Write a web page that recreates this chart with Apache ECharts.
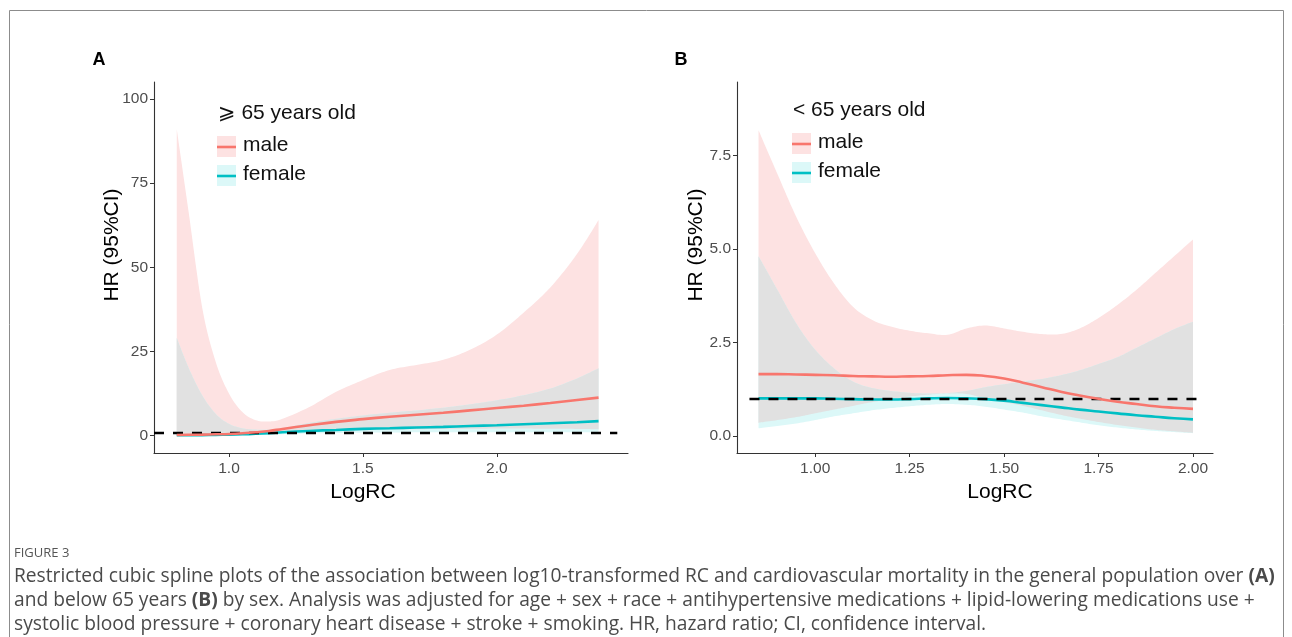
<!DOCTYPE html>
<html>
<head>
<meta charset="utf-8">
<script src="https://cdn.jsdelivr.net/npm/echarts@6/dist/echarts.min.js"></script>
<style>
html,body{margin:0;padding:0;background:#fff;}
#chart{width:1292px;height:637px;}
</style>
</head>
<body>
<div id="chart"></div>
<script>
// ---------------- Panel A (>= 65 years old) ----------------
const xA       = [0.805,0.85,0.9,0.95,1.0,1.05,1.1,1.15,1.2,1.3,1.4,1.5,1.6,1.7,1.8,1.9,2.0,2.1,2.2,2.3,2.38];
const maleA    = [0.2,0.25,0.3,0.4,0.5,0.7,1.0,1.4,2.0,3.1,4.1,4.9,5.6,6.2,6.8,7.5,8.2,8.9,9.7,10.6,11.3];
const maleLoA  = [0.0,0.02,0.05,0.1,0.2,0.3,0.45,0.6,0.8,1.1,1.4,1.6,1.8,1.9,2.0,2.05,2.1,2.1,2.05,2.0,1.9];
const maleHiA  = [91,66,38,22,12.5,7,4.6,4.2,5,8.5,13,16.5,19.5,21,22.5,25.5,30,36.5,44,54,64];
const femaleA  = [0.1,0.13,0.17,0.22,0.3,0.4,0.55,0.75,1.0,1.4,1.7,2.0,2.2,2.4,2.6,2.85,3.1,3.4,3.7,4.0,4.3];
const femLoA   = [0,0.01,0.02,0.04,0.08,0.12,0.2,0.3,0.45,0.65,0.8,0.9,0.95,1.0,1.0,1.0,1.0,1.0,1.0,1.0,1.0];
const femHiA   = [29,20,12,6.5,3.5,2.2,1.8,1.8,2.2,3.8,5,6,6.8,7.5,8.3,9.3,10.5,12,14,17,20];

// ---------------- Panel B (< 65 years old) ----------------
const xB       = [0.85,0.9,0.95,1.0,1.05,1.1,1.15,1.2,1.25,1.3,1.35,1.4,1.45,1.5,1.55,1.6,1.65,1.7,1.75,1.8,1.85,1.9,1.95,2.0];
const maleB    = [1.65,1.65,1.64,1.63,1.62,1.6,1.59,1.58,1.59,1.6,1.62,1.63,1.6,1.53,1.42,1.3,1.18,1.08,0.99,0.91,0.85,0.79,0.75,0.72];
const maleLoB  = [0.35,0.42,0.5,0.6,0.7,0.8,0.9,0.98,1.05,1.1,1.13,1.12,1.0,0.9,0.8,0.68,0.56,0.46,0.37,0.29,0.22,0.16,0.12,0.08];
const maleHiB  = [8.17,7.0,5.85,4.88,4.07,3.45,3.1,2.92,2.81,2.74,2.7,2.87,2.95,2.87,2.78,2.72,2.72,2.87,3.15,3.5,3.9,4.35,4.8,5.25];
const femaleB  = [1.0,1.0,1.0,1.0,0.99,0.98,0.97,0.97,0.98,1.0,1.01,1.0,0.98,0.94,0.88,0.82,0.76,0.7,0.65,0.6,0.55,0.51,0.47,0.44];
const femLoB   = [0.2,0.26,0.33,0.42,0.52,0.6,0.68,0.74,0.79,0.83,0.85,0.83,0.78,0.7,0.62,0.52,0.44,0.36,0.28,0.22,0.17,0.13,0.1,0.07];
const femHiB   = [4.8,3.9,3.0,2.3,1.8,1.45,1.28,1.2,1.15,1.13,1.14,1.2,1.3,1.38,1.45,1.52,1.62,1.75,1.92,2.1,2.35,2.6,2.85,3.05];

// ---------------- Axes / ticks / text ----------------
const xTicksA = [1.0,1.5,2.0];            const xTickLabelsA = ['1.0','1.5','2.0'];
const yTicksA = [0,25,50,75,100];         const yTickLabelsA = ['0','25','50','75','100'];
const xTicksB = [1.0,1.25,1.5,1.75,2.0];  const xTickLabelsB = ['1.00','1.25','1.50','1.75','2.00'];
const yTicksB = [0,2.5,5,7.5];            const yTickLabelsB = ['0.0','2.5','5.0','7.5'];
const refHR = 1;
const refSpanA = [0.72, 2.45];
const refSpanB = [0.826, 2.024];
const legendTitleA = '\u2A7E 65 years old';
const legendTitleB = '< 65 years old';
const groups = ['male','female'];

const PINK = '#F8766D', CYAN = '#00BFC4';
const PINK_FILL = '#FDE2E2', CYAN_FILL = '#DCF8F8', GRAY_FILL = '#E1E1E1';

// Catmull-Rom sampling of pixel points (drawing only)
function crSample(pts, steps){
  const out = [], n = pts.length;
  for (let i = 0; i < n - 1; i++) {
    const p0 = pts[Math.max(i-1,0)], p1 = pts[i], p2 = pts[i+1], p3 = pts[Math.min(i+2,n-1)];
    for (let s = 0; s < steps; s++) {
      const t = s/steps, t2 = t*t, t3 = t2*t;
      out.push([0,1].map(k => 0.5*((2*p1[k]) + (-p0[k]+p2[k])*t + (2*p0[k]-5*p1[k]+4*p2[k]-p3[k])*t2 + (-p0[k]+3*p1[k]-3*p2[k]+p3[k])*t3)));
    }
  }
  out.push(pts[n-1].slice());
  return out;
}

function bandSeries(idx, xs, lo, hi, color, z){
  return {
    type:'custom', xAxisIndex:idx, yAxisIndex:idx, silent:true, z:z, clip:true,
    data: xs.map((x,i)=>[x, lo[i], hi[i]]),
    encode:{x:0, y:[1,2]},
    renderItem:function(params, api){
      if (params.dataIndexInside !== 0) return null;
      const n = params.dataInsideLength, up = [], dn = [];
      for (let j = 0; j < n; j++) {
        const x = api.value(0,j);
        up.push(api.coord([x, api.value(2,j)]));
        dn.push(api.coord([x, api.value(1,j)]));
      }
      const pts = crSample(up, 10).concat(crSample(dn.reverse(), 10));
      return {type:'polygon', shape:{points:pts}, style:{fill:color, stroke:null}};
    }
  };
}
function panelSeries(idx, xs, male, mLo, mHi, fem, fLo, fHi, span){
  const oLo = xs.map((x,i)=>Math.max(mLo[i], fLo[i]));
  const oHi = xs.map((x,i)=>Math.max(Math.min(mHi[i], fHi[i]), oLo[i]));
  return [
    bandSeries(idx, xs, mLo, mHi, PINK_FILL, 1),
    bandSeries(idx, xs, fLo, fHi, CYAN_FILL, 2),
    bandSeries(idx, xs, oLo, oHi, GRAY_FILL, 3),
    {type:'line', name:groups[0], xAxisIndex:idx, yAxisIndex:idx, data:xs.map((x,i)=>[x,male[i]]), smooth:0.5,
     symbol:'none', lineStyle:{color:PINK, width:2.6}, z:5,
     markLine:{silent:true, symbol:'none', label:{show:false},
       lineStyle:{color:'#000', type:[10,9], width:2.3},
       data:[[{coord:[span[0],refHR]},{coord:[span[1],refHR]}]]}},
    {type:'line', name:groups[1], xAxisIndex:idx, yAxisIndex:idx, data:xs.map((x,i)=>[x,fem[i]]), smooth:0.5,
     symbol:'none', lineStyle:{color:CYAN, width:2.6}, z:4}
  ];
}

function axisCfg(idx, min, max, ticks, labels, margin){
  return {type:'value', gridIndex:idx, min:min, max:max, splitLine:{show:false},
    axisLine:{show:true, onZero:false, lineStyle:{color:'#333', width:1.1}},
    axisTick:{show:true, customValues:ticks, length:4, lineStyle:{color:'#333'}},
    axisLabel:{show:true, customValues:ticks, margin:margin, color:'#4D4D4D', fontSize:15.5, fontFamily:'Liberation Sans',
      formatter:(v)=>{const k=ticks.findIndex(t=>Math.abs(t-v)<1e-9); return k>=0?labels[k]:'';}}};
}

function legend(x, y, title){
  return [
    {type:'text', left:x, top:y-12, style:{text:title, font:'21px "Liberation Sans", "DejaVu Sans"', fill:'#111'}},
    {type:'rect', shape:{x:x-1, y:y+21, width:19, height:21}, style:{fill:PINK_FILL}},
    {type:'line', shape:{x1:x-1, y1:y+32, x2:x+18, y2:y+32}, style:{stroke:PINK, lineWidth:2.6}},
    {type:'text', left:x+25, top:y+20, style:{text:groups[0], font:'21px "Liberation Sans"', fill:'#111'}},
    {type:'rect', shape:{x:x-1, y:y+50, width:19, height:21}, style:{fill:CYAN_FILL}},
    {type:'line', shape:{x1:x-1, y1:y+61, x2:x+18, y2:y+61}, style:{stroke:CYAN, lineWidth:2.6}},
    {type:'text', left:x+25, top:y+49, style:{text:groups[1], font:'21px "Liberation Sans"', fill:'#111'}}
  ];
}

const capFont = '"Open Sans", "Noto Sans", sans-serif';
const captionLines = [
  'Restricted cubic spline plots of the association between log10-transformed RC and cardiovascular mortality in the general population over {b|(A)}',
  'and below 65 years {b|(B)} by sex. Analysis was adjusted for age + sex + race + antihypertensive medications + lipid-lowering medications use +',
  'systolic blood pressure + coronary heart disease + stroke + smoking. HR, hazard ratio; CI, confidence interval.'
];

const chart = echarts.init(document.getElementById('chart'), null, {renderer:'canvas'});
chart.setOption({
  animation:false,
  backgroundColor:'#fff',
  grid:[
    {left:154, top:82, width:474, height:371, containLabel:false},
    {left:737, top:82, width:476, height:371, containLabel:false}
  ],
  xAxis:[
    axisCfg(0, 0.72, 2.49, xTicksA, xTickLabelsA, 8),
    axisCfg(1, 0.793, 2.053, xTicksB, xTickLabelsB, 8)
  ],
  yAxis:[
    axisCfg(0, -5.15, 105, yTicksA, yTickLabelsA, 6),
    axisCfg(1, -0.46, 9.46, yTicksB, yTickLabelsB, 6)
  ],
  series:[
    ...panelSeries(0, xA, maleA, maleLoA, maleHiA, femaleA, femLoA, femHiA, refSpanA),
    ...panelSeries(1, xB, maleB, maleLoB, maleHiB, femaleB, femLoB, femHiB, refSpanB)
  ],
  graphic:[
    {type:'rect', shape:{x:9.5, y:10.5, width:1274, height:700}, style:{fill:'none', stroke:'#8c8c8c', lineWidth:1}, silent:true},
    {type:'text', x:99, y:60, style:{text:'A', font:'bold 18px "Liberation Sans"', fill:'#000', align:'center', verticalAlign:'middle'}},
    {type:'text', x:681, y:60, style:{text:'B', font:'bold 18px "Liberation Sans"', fill:'#000', align:'center', verticalAlign:'middle'}},
    {type:'text', x:112, y:245, rotation:Math.PI/2, style:{text:'HR (95%CI)', font:'21px "Liberation Sans"', fill:'#000', align:'center', verticalAlign:'middle'}},
    {type:'text', x:696, y:245, rotation:Math.PI/2, style:{text:'HR (95%CI)', font:'21px "Liberation Sans"', fill:'#000', align:'center', verticalAlign:'middle'}},
    {type:'text', x:363, y:492, style:{text:'LogRC', font:'21px "Liberation Sans"', fill:'#000', align:'center', verticalAlign:'middle'}},
    {type:'text', x:1000, y:492, style:{text:'LogRC', font:'21px "Liberation Sans"', fill:'#000', align:'center', verticalAlign:'middle'}},
    ...legend(218, 115, legendTitleA),
    ...legend(793, 112, legendTitleB),
    {type:'text', left:14, top:547, style:{text:'FIGURE 3', font:'13px '+capFont, fill:'#555'}},
    ...captionLines.map((t,i)=>({type:'text', left:14, top:567+i*24,
      style:{text:t, font:'19.2px '+capFont, fill:'#4a4a4a',
        rich:{b:{fontWeight:'bold', fontSize:19.2, fontFamily:'"Open Sans"', fill:'#4a4a4a'}}}}))
  ]
});
</script>
</body>
</html>
